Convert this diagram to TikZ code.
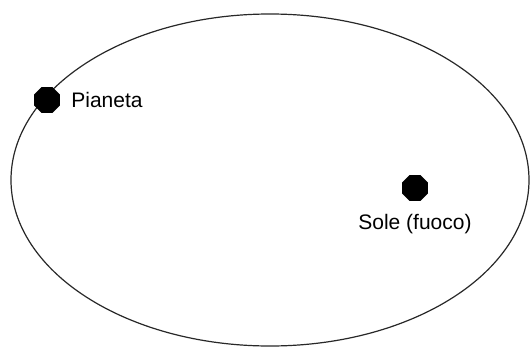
\documentclass[tikz,border=0pt]{standalone}
\usepackage{fontspec}
\setmainfont{Liberation Sans}
\usetikzlibrary{positioning,shapes.geometric}
\definecolor{orbitline}{RGB}{40,40,40}

\begin{document}
\begin{tikzpicture}[
    x=1pt, y=-1pt,
    orbit/.style={draw=orbitline, line width=1.2pt},
    dot/.style={regular polygon, regular polygon sides=8, fill=black,
                minimum size=28pt, inner sep=0pt},
    lbl/.style={inner sep=0pt, font=\fontsize{21}{25}\selectfont}
]
    \useasboundingbox[fill=white] (0,0) rectangle (530,348);

    \draw[orbit] (270,180) ellipse [x radius=259pt, y radius=166pt];

    \node[dot] (pianeta) at (47,100) {};
    \node[dot] (sole) at (415,188) {};

    \node[lbl, right=11pt of pianeta] (pianetalbl) {Pianeta};
    \node[lbl, below=13pt of sole] (solelbl) {Sole (fuoco)};
\end{tikzpicture}
\end{document}
